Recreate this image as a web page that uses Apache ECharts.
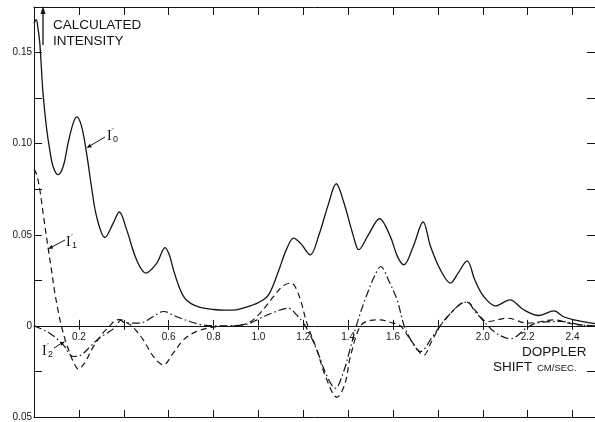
<!DOCTYPE html>
<html>
<head>
<meta charset="utf-8">
<script src="https://cdn.jsdelivr.net/npm/echarts@6/dist/echarts.min.js"></script>
<style>html,body{margin:0;padding:0;background:#fff}#c{width:595px;height:422px}</style>
</head>
<body>
<div id="c"></div>
<script>
// ---- data ----
const i0X = [0, 0.01, 0.018, 0.026, 0.04, 0.055, 0.07, 0.085, 0.107, 0.13, 0.152, 0.174, 0.19, 0.212, 0.234, 0.256, 0.279, 0.316, 0.353, 0.38, 0.413, 0.457, 0.499, 0.547, 0.584, 0.603, 0.621, 0.645, 0.67, 0.70, 0.74, 0.8, 0.85, 0.9, 0.93, 0.97, 1.0, 1.03, 1.05, 1.07, 1.097, 1.125, 1.157, 1.19, 1.231, 1.27, 1.31, 1.347, 1.38, 1.424, 1.447, 1.49, 1.54, 1.588, 1.62, 1.648, 1.69, 1.734, 1.767, 1.81, 1.856, 1.89, 1.93, 1.965, 2.005, 2.057, 2.121, 2.18, 2.25, 2.317, 2.36, 2.406, 2.5];
const i0Y = [0.166, 0.168, 0.163, 0.155, 0.128, 0.1095, 0.0967, 0.0875, 0.083, 0.0875, 0.1004, 0.111, 0.1147, 0.1095, 0.0949, 0.0765, 0.06, 0.0485, 0.0564, 0.0625, 0.0527, 0.0363, 0.029, 0.0344, 0.043, 0.039, 0.031, 0.022, 0.0155, 0.0122, 0.0102, 0.009, 0.0086, 0.0088, 0.0097, 0.0113, 0.0128, 0.015, 0.018, 0.0235, 0.0326, 0.042, 0.0482, 0.045, 0.039, 0.05, 0.066, 0.078, 0.068, 0.049, 0.0418, 0.05, 0.0588, 0.049, 0.038, 0.0335, 0.0436, 0.057, 0.0436, 0.031, 0.0235, 0.029, 0.0357, 0.025, 0.016, 0.011, 0.0143, 0.009, 0.0057, 0.0082, 0.005, 0.0033, 0.0012];

const i1X = [0, 0.012, 0.026, 0.045, 0.063, 0.08, 0.093, 0.108, 0.122, 0.14, 0.16, 0.18, 0.198, 0.215, 0.234, 0.256, 0.3, 0.338, 0.36, 0.383, 0.41, 0.436, 0.487, 0.532, 0.576, 0.62, 0.666, 0.725, 0.815, 0.9, 0.96, 1.008, 1.067, 1.11, 1.145, 1.18, 1.216, 1.26, 1.3, 1.35, 1.385, 1.41, 1.455, 1.5, 1.543, 1.6, 1.633, 1.68, 1.737, 1.77, 1.81, 1.85, 1.9, 1.93, 1.97, 2.02, 2.11, 2.2, 2.32, 2.4, 2.5];
const i1Y = [0.086, 0.083, 0.0747, 0.058, 0.0427, 0.029, 0.018, 0.008, 0, -0.008, -0.015, -0.021, -0.0238, -0.022, -0.0187, -0.0132, -0.005, 0, 0.0028, 0.0035, 0.002, 0, -0.0077, -0.0168, -0.0214, -0.015, -0.0077, -0.003, -0.0004, 0, 0.002, 0.007, 0.016, 0.022, 0.0235, 0.017, 0.0015, -0.013, -0.028, -0.0392, -0.032, -0.0168, 0, 0.003, 0.0033, 0.0015, 0, -0.008, -0.016, -0.009, 0, 0.006, 0.012, 0.013, 0.008, 0.0024, 0.0042, 0.0015, 0.0033, 0.001, 0];

const i2X = [0, 0.026, 0.07, 0.108, 0.137, 0.155, 0.175, 0.21, 0.25, 0.29, 0.338, 0.368, 0.385, 0.41, 0.47, 0.53, 0.577, 0.636, 0.695, 0.755, 0.85, 0.95, 1.008, 1.07, 1.134, 1.17, 1.209, 1.26, 1.3, 1.343, 1.38, 1.41, 1.44, 1.48, 1.52, 1.545, 1.58, 1.618, 1.65, 1.69, 1.722, 1.77, 1.81, 1.85, 1.9, 1.93, 1.965, 2.005, 2.06, 2.124, 2.2, 2.25, 2.35, 2.44, 2.5];
const i2Y = [0, -0.0013, -0.004, -0.0077, -0.0114, -0.015, -0.0168, -0.016, -0.0114, -0.0068, -0.003, 0, 0.003, 0.0015, 0.0015, 0.005, 0.0079, 0.005, 0.0024, 0.0005, 0, 0.001, 0.0042, 0.0075, 0.0097, 0.006, 0, -0.013, -0.026, -0.0342, -0.025, -0.012, 0.0015, 0.016, 0.028, 0.0326, 0.025, 0.0143, 0, -0.01, -0.0141, -0.007, 0, 0.006, 0.012, 0.013, 0.008, 0.0024, -0.004, -0.007, -0.0007, 0.0018, 0.0024, 0.0005, 0];

const xTickValues = [0.2, 0.4, 0.6, 0.8, 1.0, 1.2, 1.4, 1.6, 1.8, 2.0, 2.2, 2.4];
const xTickLabels = ["0.2", "", "0.6", "0.8", "1.0", "1.2", "1.4", "1.6", "", "2.0", "2.2", "2.4"];
const yTickValues = [-0.05, 0, 0.05, 0.10, 0.15];
const yTickLabels = ["0.05", "0", "0.05", "0.10", "0.15"];

// ---- helpers ----
const zip = (xs, ys) => xs.map((x, i) => [x, ys[i]]);
const lookup = (vals, labs, v) => {
  for (let i = 0; i < vals.length; i++) if (Math.abs(vals[i] - v) < 1e-6) return labs[i];
  return '';
};
const INK = '#141414';
const FONT = 'Liberation Sans';
const X_MIN = 0, X_MAX = 2.5, X_STEP = 0.2;
const Y_MIN = -0.05, Y_MAX = 0.175, Y_STEP = 0.025;

const W = 595, H = 422, G_L = 34, G_R = 0, G_T = 7, G_B = 5;
// pixel row of y = 0, so that the zero-line axis grid ends exactly there
const plotH = H - G_T - G_B;
const zeroRow = G_T + plotH * (Y_MAX - 0) / (Y_MAX - Y_MIN);
const zeroBottom = H - zeroRow;

const chart = echarts.init(document.getElementById('c'), null, {renderer: 'canvas'});

const gridMain = {left: G_L, right: G_R, top: G_T, bottom: G_B, containLabel: false, outerBoundsMode: 'none'};
const gridZero = {left: G_L, right: G_R, top: G_T, bottom: zeroBottom, containLabel: false, outerBoundsMode: 'none'};
const baseX = {type: 'value', min: X_MIN, max: X_MAX, interval: X_STEP, splitLine: {show: false}};
const baseY = {type: 'value', min: Y_MIN, max: Y_MAX, interval: Y_STEP, splitLine: {show: false}};

const option = {
  animation: false,
  backgroundColor: '#fff',
  grid: [gridMain, Object.assign({}, gridZero), Object.assign({}, gridZero)],
  xAxis: [
    Object.assign({}, baseX, { // bottom frame
      gridIndex: 0, position: 'bottom',
      axisLine: {show: true, onZero: false, lineStyle: {color: INK, width: 1}},
      axisTick: {show: true, inside: true, length: 7, lineStyle: {color: INK}},
      axisLabel: {show: false}
    }),
    Object.assign({}, baseX, { // top frame
      gridIndex: 0, position: 'top',
      axisLine: {show: true, onZero: false, lineStyle: {color: INK, width: 1}},
      axisTick: {show: true, inside: true, length: 8, lineStyle: {color: INK}},
      axisLabel: {show: false}
    }),
    Object.assign({}, baseX, { // zero line, labels, ticks up
      gridIndex: 1, position: 'bottom',
      axisLine: {show: true, onZero: false, lineStyle: {color: INK, width: 1}},
      axisTick: {show: true, inside: true, length: 6, lineStyle: {color: INK}},
      axisLabel: {show: true, margin: 6, color: INK, fontFamily: FONT, fontSize: 10,
        formatter: v => lookup(xTickValues, xTickLabels, v), showMinLabel: false}
    }),
    Object.assign({}, baseX, { // zero line ticks down
      gridIndex: 2, position: 'bottom',
      axisLine: {show: false, onZero: false},
      axisTick: {show: true, inside: false, length: 4, lineStyle: {color: INK}},
      axisLabel: {show: false}
    })
  ],
  yAxis: [
    Object.assign({}, baseY, {
      gridIndex: 0, position: 'left',
      axisLine: {show: true, onZero: false, lineStyle: {color: INK, width: 1}},
      axisTick: {show: true, inside: true, length: 8, lineStyle: {color: INK}},
      axisLabel: {margin: 2, color: INK, fontFamily: FONT, fontSize: 10,
        formatter: v => lookup(yTickValues, yTickLabels, v)}
    }),
    Object.assign({}, baseY, {
      gridIndex: 0, position: 'right',
      axisLine: {show: true, onZero: false, lineStyle: {color: INK, width: 1}},
      axisTick: {show: true, inside: true, length: 8, lineStyle: {color: INK}},
      axisLabel: {show: false}
    }),
    {type: 'value', gridIndex: 1, min: 0, max: Y_MAX, show: false},
    {type: 'value', gridIndex: 2, min: 0, max: Y_MAX, show: false}
  ],
  series: [
    {name: "I'0", type: 'line', xAxisIndex: 0, yAxisIndex: 0, data: zip(i0X, i0Y), smooth: 0.35, symbol: 'none',
      lineStyle: {color: INK, width: 1.3}},
    {name: "I'1", type: 'line', xAxisIndex: 0, yAxisIndex: 0, data: zip(i1X, i1Y), smooth: 0.35, symbol: 'none',
      lineStyle: {color: INK, width: 1.2, type: [6, 4]}},
    {name: "I'2", type: 'line', xAxisIndex: 0, yAxisIndex: 0, data: zip(i2X, i2Y), smooth: 0.35, symbol: 'none',
      lineStyle: {color: INK, width: 1.2, type: [8, 3, 1.5, 3]}}
  ],
  graphic: []
};

// ---- annotations ----
const g = [];
const txt = (x, y, s, size, fam, extra) => g.push({type: 'text', x: x, y: y,
  style: Object.assign({text: s, fill: INK, font: size + 'px "' + (fam || FONT) + '"', textVerticalAlign: 'top'}, extra || {})});
const line = (x1, y1, x2, y2, w) => g.push({type: 'line', shape: {x1, y1, x2, y2}, style: {stroke: INK, lineWidth: w || 1}});
const head = (x1, y1, x2, y2, L, Wd) => { // arrow head at (x2,y2) pointing from (x1,y1)
  const a = Math.atan2(y2 - y1, x2 - x1), c = Math.cos(a), s = Math.sin(a);
  const bx = x2 - L * c, by = y2 - L * s;
  g.push({type: 'polygon', shape: {points: [[x2, y2], [bx - Wd * s, by + Wd * c], [bx + Wd * s, by - Wd * c]]}, style: {fill: INK}});
};
// vertical arrow + title
line(43, 45, 43, 12, 1.3); head(43, 45, 43, 6, 8, 2.5);
txt(53, 18, 'CALCULATED', 13.5);
txt(53, 34, 'INTENSITY', 13.5);
// subscript labels
const ilab = (x, y, sub) => {
  txt(x, y, 'I', 14, 'Liberation Serif');
  txt(x + 5, y - 1, '\u2032', 9, 'DejaVu Sans');
  txt(x + 6, y + 6, sub, 9, FONT);
};
ilab(107, 129, '0'); line(105, 137, 88, 147); head(105, 137, 86.5, 148, 5, 2);
ilab(66, 235, '1'); line(65, 240, 50, 248); head(65, 240, 48, 249, 5, 2);
ilab(42, 344, '2'); line(54, 348, 62, 343); head(54, 348, 65, 341.5, 5, 2);
// x axis title
txt(522, 345, 'DOPPLER', 13.5);
txt(493, 360, 'SHIFT', 13.5);
txt(537, 363, 'CM/SEC.', 9.5);
option.graphic = g;

chart.setOption(option);
</script>
</body>
</html>
